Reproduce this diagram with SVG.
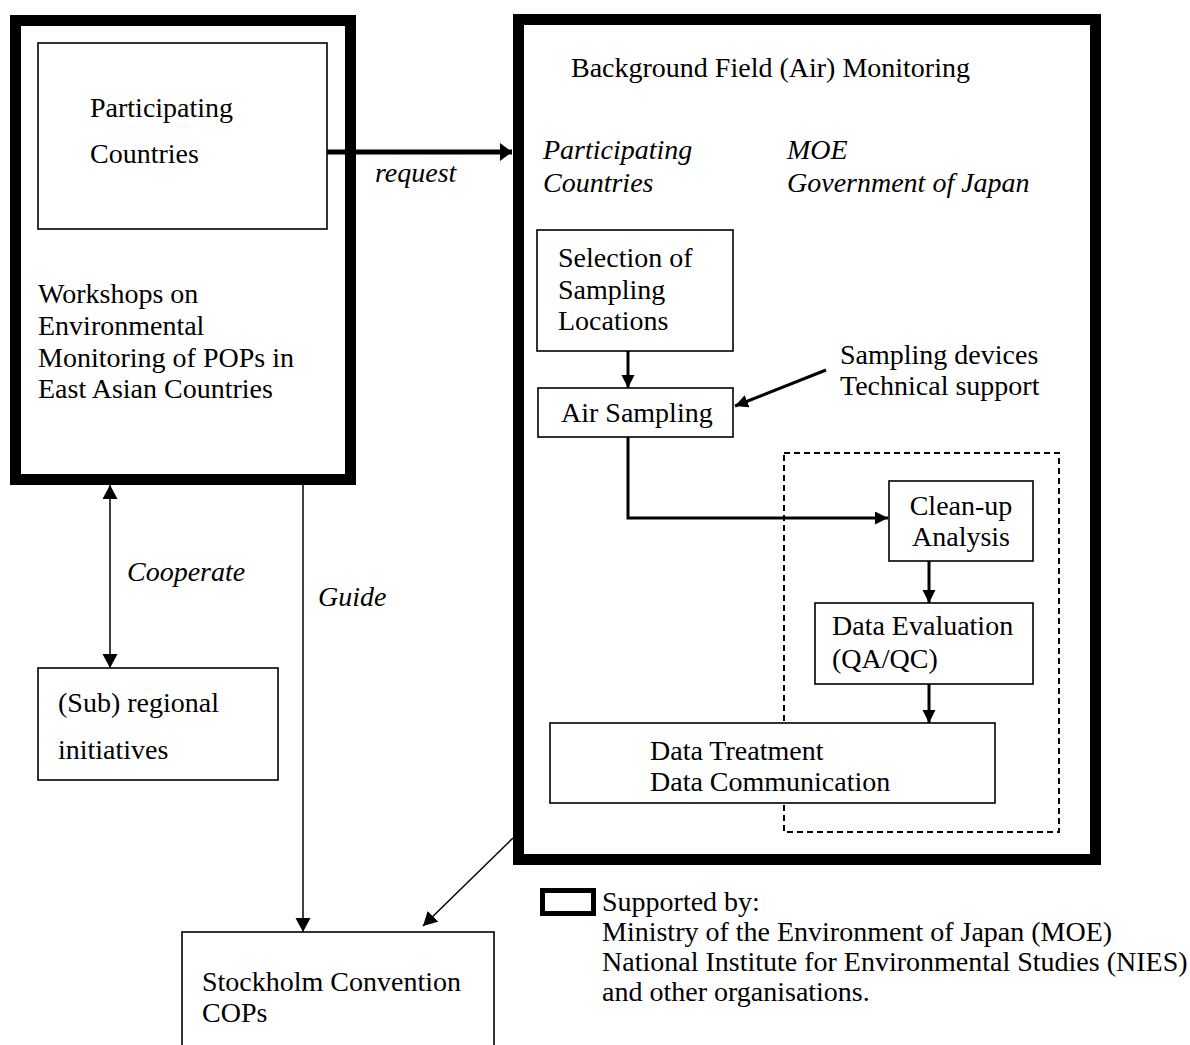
<svg xmlns="http://www.w3.org/2000/svg" width="1190" height="1045" viewBox="0 0 1190 1045">
<style>
text { font-family: "Liberation Serif", "Times New Roman", serif; font-size: 28px; fill: #000; }
.it { font-style: italic; }
.mid { text-anchor: middle; }
.thick { fill: #fff; stroke: #000; stroke-width: 11; }
.box { fill: #fff; stroke: #000; stroke-width: 1.6; }
.dash { fill: none; stroke: #000; stroke-width: 2; stroke-dasharray: 6 4; }
.c1 { fill: none; stroke: #000; stroke-width: 1.5; }
.c3 { fill: none; stroke: #000; stroke-width: 3; }
.c5 { fill: none; stroke: #000; stroke-width: 5; }
</style>
<defs>
<marker id="ah" markerUnits="userSpaceOnUse" markerWidth="14" markerHeight="14" refX="13" refY="6.5" orient="auto"><path d="M0,0 L13,6.5 L0,13 z" fill="#000"/></marker>
<marker id="ahs" markerUnits="userSpaceOnUse" markerWidth="16" markerHeight="16" refX="14" refY="7.5" orient="auto-start-reverse"><path d="M0,0 L14,7.5 L0,15 z" fill="#000"/></marker>
<marker id="ahr" markerUnits="userSpaceOnUse" markerWidth="14" markerHeight="20" refX="12" refY="9" orient="auto"><path d="M0,0 L12,9 L0,18 z" fill="#000"/></marker>
</defs>

<g id="workshops">
<rect class="thick" x="15.5" y="20.5" width="335" height="459"/>
<text x="38" y="303">Workshops on</text>
<text x="38" y="335">Environmental</text>
<text x="38" y="367">Monitoring of POPs in</text>
<text x="38" y="398">East Asian Countries</text>
</g>
<g id="participating-countries">
<rect class="box" x="38" y="43" width="289" height="186"/>
<text x="90" y="117">Participating</text>
<text x="90" y="163">Countries</text>
</g>

<g id="background-monitoring">
<rect class="thick" x="518.5" y="19.5" width="577" height="840"/>
<text x="571" y="77">Background Field (Air) Monitoring</text>
<text class="it" x="543" y="159">Participating</text>
<text class="it" x="543" y="192">Countries</text>
<text class="it" x="787" y="159">MOE</text>
<text class="it" x="787" y="192">Government of Japan</text>
</g>
<g id="analysis-group">
<rect class="dash" x="784" y="453" width="275" height="379"/>
</g>
<g id="selection">
<rect class="box" x="537" y="230" width="196" height="121"/>
<text x="558" y="267">Selection of</text>
<text x="558" y="299">Sampling</text>
<text x="558" y="330">Locations</text>
</g>
<g id="air-sampling">
<rect class="box" x="538" y="388" width="195" height="49"/>
<text x="561" y="422">Air Sampling</text>
</g>
<g id="support">
<text x="840" y="364">Sampling devices</text>
<text x="840" y="395">Technical support</text>
</g>
<g id="cleanup">
<rect class="box" x="889" y="481" width="144" height="80"/>
<text class="mid" x="961" y="515">Clean-up</text>
<text class="mid" x="961" y="546">Analysis</text>
</g>
<g id="evaluation">
<rect class="box" x="815" y="603" width="218" height="81"/>
<text x="832" y="635">Data Evaluation</text>
<text x="832" y="668">(QA/QC)</text>
</g>
<g id="treatment">
<rect class="box" x="550" y="723" width="445" height="80"/>
<text x="650" y="760">Data Treatment</text>
<text x="650" y="791">Data Communication</text>
</g>

<g id="subregional">
<rect class="box" x="38" y="668" width="240" height="112"/>
<text x="58" y="712">(Sub) regional</text>
<text x="58" y="759">initiatives</text>
</g>
<g id="stockholm">
<rect class="box" x="182" y="932" width="312" height="130"/>
<text x="202" y="991">Stockholm Convention</text>
<text x="202" y="1022">COPs</text>
</g>

<g id="legend">
<rect x="542.5" y="890.5" width="51" height="23" fill="#fff" stroke="#000" stroke-width="5"/>
<text x="602" y="911">Supported by:</text>
<text x="602" y="941">Ministry of the Environment of Japan (MOE)</text>
<text x="602" y="971">National Institute for Environmental Studies (NIES)</text>
<text x="602" y="1001">and other organisations.</text>
</g>

<g id="connectors">
<line class="c5" x1="327" y1="152" x2="512" y2="152" marker-end="url(#ahr)"/>
<text class="it" x="375" y="182">request</text>
<line class="c3" x1="628" y1="351" x2="628" y2="388" marker-end="url(#ah)"/>
<line class="c3" x1="826" y1="370" x2="735" y2="406" marker-end="url(#ah)"/>
<path class="c3" d="M628,437 V518 H888" marker-end="url(#ah)"/>
<line class="c3" x1="929" y1="561" x2="929" y2="603" marker-end="url(#ah)"/>
<line class="c3" x1="929" y1="684" x2="929" y2="723" marker-end="url(#ah)"/>
<line class="c1" x1="110" y1="485" x2="110" y2="668" marker-start="url(#ahs)" marker-end="url(#ahs)"/>
<text class="it" x="127" y="581">Cooperate</text>
<line class="c1" x1="303" y1="485" x2="303" y2="932" marker-end="url(#ahs)"/>
<text class="it" x="318" y="606">Guide</text>
<line class="c1" x1="513" y1="838" x2="423" y2="926" marker-end="url(#ahs)"/>
</g>
</svg>
